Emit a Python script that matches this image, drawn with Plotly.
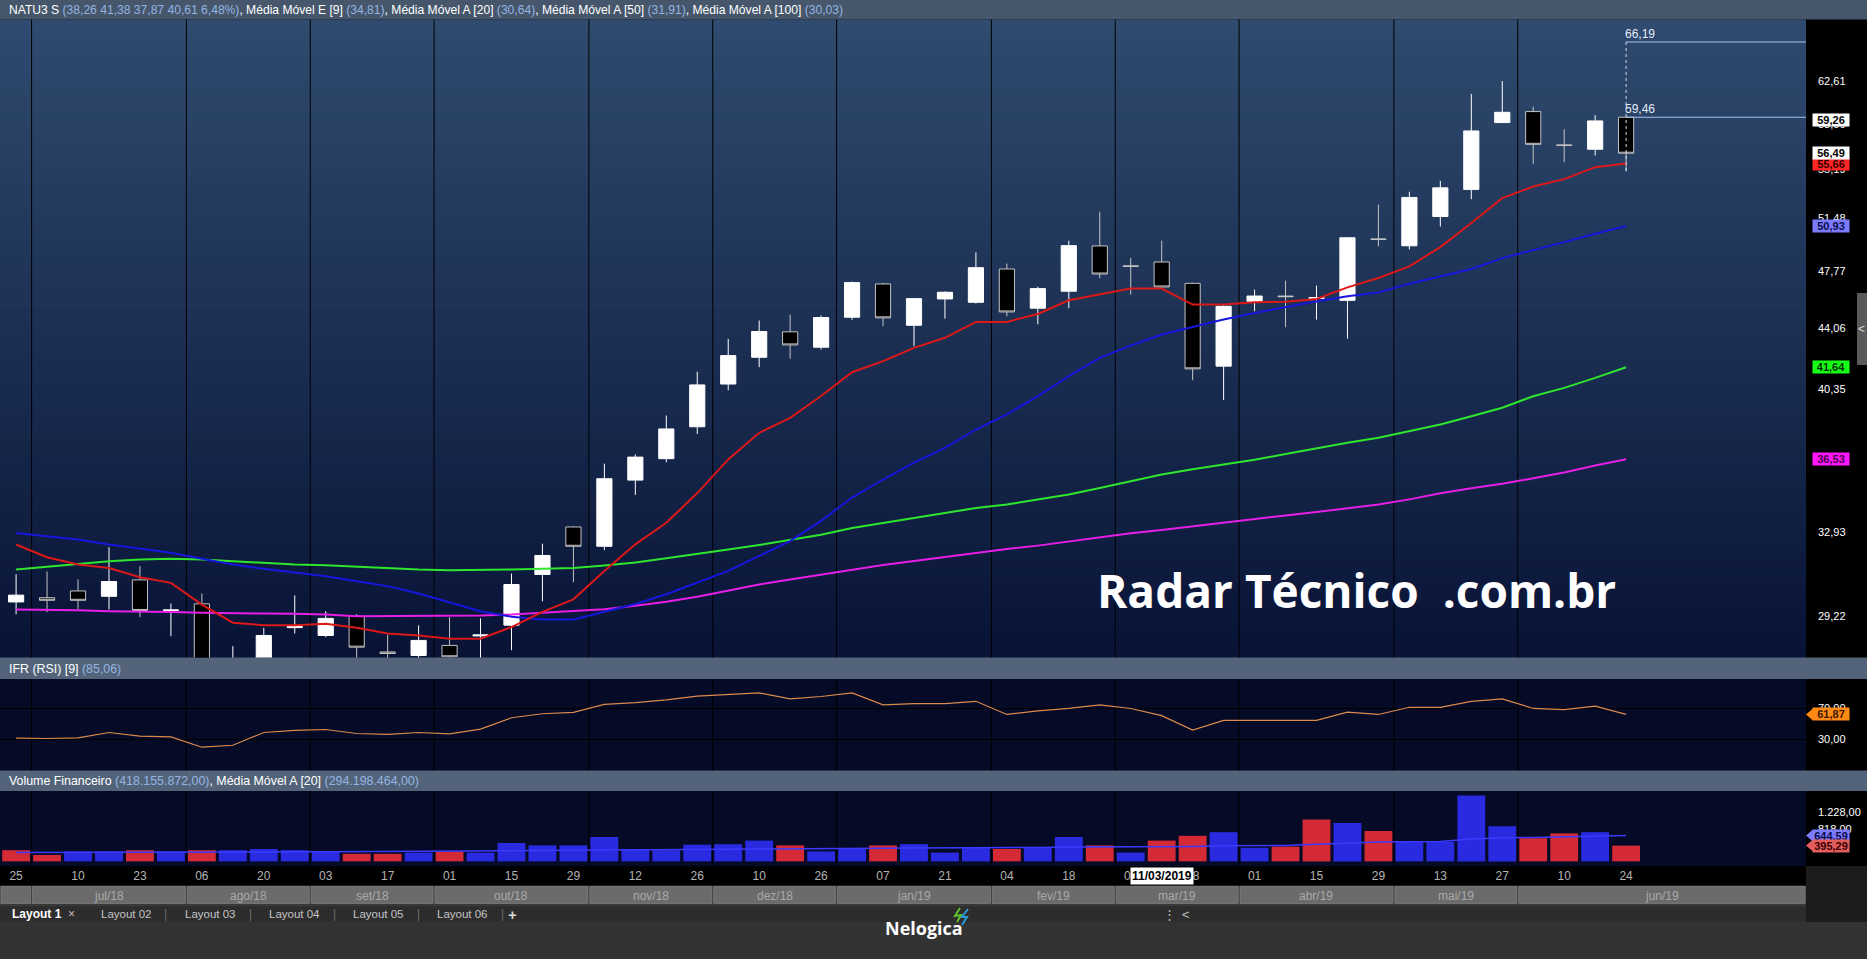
import numpy as np
import plotly.graph_objects as go

# ---------------- data (weekly candles, 25/06/2018 .. 24/06/2019) ----------------
date_ticks = ["25", "10", "23", "06", "20", "03", "17", "01", "15", "29", "12", "26", "10", "26",
              "07", "21", "04", "18", "06", "18", "01", "15", "29", "13", "27", "10", "24"]
months = ["jul/18", "ago/18", "set/18", "out/18", "nov/18", "dez/18", "jan/19", "fev/19",
          "mar/19", "abr/19", "mai/19", "jun/19"]
month_start = [1, 6, 10, 14, 19, 23, 27, 32, 36, 40, 45, 49]   # first candle of each month

opens = [29.81, 29.99, 30.28, 30.05, 30.76, 29.45, 29.73, 26.80, 27.30, 28.74,
         28.42, 29.21, 27.76, 27.62, 28.02, 28.40, 28.84, 31.00, 33.17, 32.27,
         35.46, 36.56, 38.26, 40.66, 42.24, 43.80, 42.85, 44.72, 46.89, 44.21,
         45.90, 45.68, 47.90, 45.30, 46.41, 49.50, 48.12, 48.38, 46.93, 41.71,
         45.74, 46.09, 45.94, 45.81, 50.00, 49.51, 51.62, 53.65, 59.01, 59.94,
         57.16, 56.81, 59.46]
highs = [31.01, 31.13, 30.78, 32.23, 31.37, 29.74, 30.17, 27.99, 28.73, 30.09,
         29.42, 29.30, 28.46, 28.83, 29.17, 29.12, 31.04, 32.39, 33.20, 36.30,
         36.78, 38.88, 41.38, 43.36, 44.51, 44.89, 44.83, 47.05, 46.96, 45.95,
         46.40, 49.05, 48.27, 46.71, 49.87, 51.97, 48.66, 49.87, 46.98, 45.50,
         46.51, 47.11, 46.78, 50.12, 52.49, 53.47, 54.31, 61.47, 62.61, 60.37,
         58.45, 59.63, 59.50]
lows = [29.29, 29.38, 29.49, 29.49, 29.17, 28.39, 26.80, 26.40, 27.10, 28.50,
        28.35, 27.50, 27.40, 27.40, 27.40, 27.50, 27.83, 29.84, 30.66, 32.09,
        34.72, 36.37, 37.87, 40.30, 41.65, 42.16, 42.71, 44.55, 44.15, 42.91,
        44.63, 45.60, 44.78, 44.27, 45.30, 47.27, 46.18, 46.60, 40.88, 39.74,
        45.10, 44.09, 44.57, 43.38, 49.47, 49.24, 50.89, 52.91, 59.00, 55.61,
        55.77, 56.30, 55.04]
closes = [30.10, 29.88, 29.88, 30.69, 29.45, 29.47, 27.10, 27.30, 28.42, 28.78,
          29.12, 27.95, 27.70, 28.22, 27.57, 28.44, 30.56, 31.85, 32.27, 35.53,
          36.64, 38.14, 40.61, 42.34, 43.82, 42.99, 44.70, 46.98, 44.68, 45.92,
          46.34, 47.99, 45.06, 46.58, 49.52, 47.56, 48.08, 46.69, 41.55, 45.42,
          46.09, 46.05, 45.98, 50.08, 49.96, 53.04, 53.77, 58.31, 59.88, 57.21,
          57.12, 59.15, 56.49]

ema9 = [32.35, 31.77, 31.44, 31.29, 30.88, 30.63, 29.70, 28.94, 28.84, 28.84,
        28.90, 28.73, 28.50, 28.42, 28.29, 28.29, 28.76, 29.39, 29.92, 31.15,
        32.36, 33.37, 34.81, 36.52, 37.93, 38.75, 39.97, 41.35, 42.01, 42.81,
        43.43, 44.42, 44.42, 44.93, 45.81, 46.18, 46.58, 46.58, 45.53, 45.53,
        45.68, 45.72, 45.90, 46.66, 47.29, 48.08, 49.42, 51.14, 52.99, 53.87,
        54.44, 55.38, 55.66]
sma20 = [32.89, 32.73, 32.58, 32.35, 32.15, 31.97, 31.70, 31.44, 31.25, 31.07,
         30.92, 30.70, 30.49, 30.17, 29.80, 29.42, 29.19, 29.07, 29.07, 29.38,
         29.72, 30.14, 30.64, 31.16, 31.83, 32.51, 33.46, 34.59, 35.49, 36.35,
         37.13, 38.11, 38.94, 39.97, 41.12, 42.20, 42.95, 43.63, 44.10, 44.57,
         44.99, 45.38, 45.74, 46.07, 46.33, 46.91, 47.40, 47.90, 48.65, 49.18,
         49.77, 50.36, 50.93]
sma50 = [31.22, 31.34, 31.49, 31.59, 31.67, 31.70, 31.67, 31.59, 31.54, 31.44,
         31.41, 31.34, 31.27, 31.22, 31.19, 31.19, 31.22, 31.25, 31.29, 31.40,
         31.53, 31.72, 31.91, 32.12, 32.33, 32.56, 32.80, 33.12, 33.35, 33.60,
         33.84, 34.08, 34.25, 34.48, 34.74, 35.06, 35.40, 35.74, 36.01, 36.25,
         36.50, 36.80, 37.10, 37.40, 37.66, 38.02, 38.38, 38.84, 39.31, 39.96,
         40.44, 41.02, 41.64]
sma100 = [29.49, 29.49, 29.46, 29.42, 29.42, 29.39, 29.35, 29.35, 29.32, 29.31,
          29.28, 29.21, 29.21, 29.21, 29.21, 29.24, 29.28, 29.36, 29.42, 29.50,
          29.65, 29.82, 30.03, 30.30, 30.56, 30.78, 31.00, 31.22, 31.42, 31.60,
          31.78, 31.98, 32.14, 32.30, 32.50, 32.70, 32.87, 33.03, 33.20, 33.40,
          33.55, 33.72, 33.88, 34.05, 34.25, 34.50, 34.80, 35.05, 35.28, 35.55,
          35.85, 36.20, 36.53]

rsi9 = [31.7, 31.3, 32.1, 38.9, 34.2, 33.3, 20.2, 22.7, 38.9, 41.5,
        42.7, 37.6, 36.4, 38.9, 37.2, 43.2, 57.6, 62.7, 64.5, 74.7,
        76.8, 80.2, 85.06, 87.6, 89.2, 81.6, 84.6, 89.2, 74.0, 75.5,
        75.5, 78.5, 61.8, 66.3, 69.4, 74.0, 69.4, 60.3, 42.0, 54.2,
        54.2, 54.2, 54.2, 64.8, 61.8, 70.9, 70.9, 78.5, 81.6, 69.4,
        67.9, 72.4, 61.87]

# financial volume, R$ millions
volume = [280, 160, 250, 250, 280, 250, 280, 280, 310, 280,
          250, 190, 190, 220, 250, 220, 460, 400, 400, 610,
          310, 280, 418.155872, 430, 520, 400, 250, 310, 400, 430,
          220, 340, 310, 340, 610, 400, 220, 520, 640, 730,
          340, 370, 1050, 960, 760, 490, 490, 1650, 880, 580,
          700, 730, 395.29]
volume_ma20 = [225, 225, 224, 224, 226, 228, 230, 232, 236, 240,
               243, 245, 246, 248, 250, 252, 262, 270, 276, 286,
               289, 291, 294.198464, 302, 314, 320, 322, 326, 330, 336,
               336, 340, 344, 350, 360, 360, 358, 362, 372, 390,
               392, 396, 430, 460, 484, 492, 500, 560, 590, 600,
               614, 630, 644.59]

price_ticks = [29.22, 32.93, 36.64, 40.35, 44.06, 47.77, 51.48, 55.19, 58.90, 62.61]
rsi_ticks = [30, 70]
vol_ticks = [818, 1228]
proj_levels = [66.19, 59.46]     # projection lines drawn from the last candle
proj_tag = 59.26
header_idx = 22                  # candle shown in the panel headers
cursor_date = "11/03/2019"
cursor_idx = 37

# ---------------- helpers ----------------
W, H = 1867, 959
PR = 1806  # right edge of the plotting area (px)
FONT = "Liberation Sans Narrow, Liberation Sans, Arial, sans-serif"
FONT_R = "Liberation Sans, Arial, sans-serif"
BLUE_TXT = "#93b4e2"


def br(v, d=2):
    s = f"{v:,.{d}f}"
    return s.replace(",", "X").replace(".", ",").replace("X", ".")


def pyp(y):
    return 1 - y / H


shapes = []
annotations = []


def prect(x0, x1, y0, y1, color, layer="below", line=None):
    shapes.append(dict(type="rect", xref="paper", yref="paper", x0=x0 / PR, x1=x1 / PR,
                       y0=pyp(y1), y1=pyp(y0), fillcolor=color,
                       line=line if line else dict(width=0), layer=layer))


def ptext(x, y, text, size=12, color="#ffffff", xanchor="left", family=FONT, **kw):
    annotations.append(dict(x=x / PR, y=pyp(y), xref="paper", yref="paper", text=text,
                            showarrow=False, xanchor=xanchor, yanchor="middle",
                            font=dict(size=size, color=color, family=family), **kw))


x = list(range(len(opens)))
xr = [-0.52, 57.81]

# axis calibration (pixels of the reference layout)
main_top, main_bot = 19.5, 657.5
rsi_top, rsi_bot = 679.0, 770.5
vol_top, vol_bot = 791.0, 866.0
K = 702.0  # px per ln unit
ln_ref, y_ref = np.log(62.61), 81.0
main_range = [(ln_ref - (main_bot - y_ref) / K) / np.log(10), (ln_ref + (y_ref - main_top) / K) / np.log(10)]
rsi_k = (739.5 - 708.0) / 40.0
rsi_range = [30 - (rsi_bot - 739.5) / rsi_k, 70 + (708.0 - rsi_top) / rsi_k]
vol_k = 0.04
vol_range = [-(vol_bot - 861.4) / vol_k, (861.4 - vol_top) / vol_k]

# ---------------- backgrounds ----------------
n_b = 70
top_rgb = np.array([47, 75, 111])
bot_rgb = np.array([8, 19, 54])
for k in range(n_b):
    t0 = main_top + (main_bot - main_top) * k / n_b
    t1 = main_top + (main_bot - main_top) * (k + 1) / n_b
    c = top_rgb + (bot_rgb - top_rgb) * (k + 0.5) / n_b
    prect(0, PR, t0, t1 + 0.7, f"rgb({c[0]:.0f},{c[1]:.0f},{c[2]:.0f})")
prect(0, PR, rsi_top, rsi_bot, "#050a27")
prect(0, PR, vol_top, vol_bot, "#050a27")
prect(0, W, 0, main_top, "#46576c")
prect(0, W, main_bot, rsi_top, "#53647a")
prect(0, W, rsi_bot, vol_top, "#53647a")
prect(PR, W, vol_bot, 922, "#1c1c1c")
prect(0, PR, 885.5, 904.5, "#3c3c3c")
prect(0, PR, 904.5, 922, "#2d2d2d")
prect(0, PR, 904.5, 905.5, "#4a4a4a")
prect(0, W, 922, H, "#333333")
# scroll handle
prect(1857, W, 293, 365, "#5a5a5a", layer="above")
ptext(1861, 329, "&lt;", size=12, color="#dcdcdc", xanchor="center", family=FONT_R)

# month separators in all three panels
bounds = [m - 0.5 for m in month_start]
for b in bounds:
    for (a0, a1) in [(main_top, main_bot), (rsi_top, rsi_bot), (vol_top, vol_bot)]:
        shapes.append(dict(type="line", xref="x", yref="paper", x0=b, x1=b, y0=pyp(a1), y1=pyp(a0),
                           line=dict(color="#000000", width=1), layer="below"))

# month buttons
seg_edges = [xr[0]] + bounds + [xr[1]]
for i in range(len(seg_edges) - 1):
    shapes.append(dict(type="rect", xref="x", yref="paper", x0=seg_edges[i] + 0.03, x1=seg_edges[i + 1] - 0.03,
                       y0=pyp(903.5), y1=pyp(886.5), fillcolor="#6b6b6b",
                       line=dict(color="#8a8a8a", width=0.6), layer="below"))
for i, m in enumerate(months):
    annotations.append(dict(x=(seg_edges[i + 1] + seg_edges[i + 2]) / 2, xref="x", y=pyp(895.5), yref="paper",
                            text=m, showarrow=False, xanchor="center", yanchor="middle",
                            font=dict(size=12, color="#a9a9a9", family=FONT)))

# ---------------- traces ----------------
fig = go.Figure()
fig.add_trace(go.Candlestick(
    x=x, open=opens, high=highs, low=lows, close=closes, xaxis="x", yaxis="y",
    increasing=dict(fillcolor="#ffffff", line=dict(color="#ffffff", width=1)),
    decreasing=dict(fillcolor="#000000", line=dict(color="#c4c4c4", width=1)),
    whiskerwidth=0, hoverinfo="skip"))
for vals, col in [(sma100, "#e61ee6"), (sma50, "#2ee62e"), (sma20, "#1616dc"), (ema9, "#dc1818")]:
    fig.add_trace(go.Scatter(x=x, y=vals, mode="lines", line=dict(color=col, width=2),
                             xaxis="x", yaxis="y", hoverinfo="skip"))
last = x[-1]
for lv in proj_levels:
    fig.add_trace(go.Scatter(x=[last, xr[1]], y=[lv, lv], mode="lines",
                             line=dict(color="#a9c4ea", width=1), xaxis="x", yaxis="y", hoverinfo="skip"))
    annotations.append(dict(x=last, y=np.log10(lv), xref="x", yref="y", text=br(lv), showarrow=False,
                            xanchor="left", yanchor="bottom", yshift=-1, xshift=-3,
                            font=dict(size=12, color="#e4ecf7", family=FONT_R)))
fig.add_trace(go.Scatter(x=[last, last], y=[max(proj_levels), lows[-1]], mode="lines",
                         line=dict(color="#d0dcef", width=1, dash="3px,3px"), xaxis="x", yaxis="y",
                         hoverinfo="skip"))

fig.add_trace(go.Scatter(x=x, y=rsi9, mode="lines", line=dict(color="#dc8a4c", width=1.2),
                         xaxis="x2", yaxis="y2", hoverinfo="skip"))

vol_colors = ["#d42a36" if (i == 0 or closes[i] < closes[i - 1]) else "#2a2ae0" for i in x]
fig.add_trace(go.Bar(x=x, y=volume, marker=dict(color=vol_colors, line=dict(width=0)),
                     xaxis="x3", yaxis="y3", hoverinfo="skip"))
fig.add_trace(go.Scatter(x=x, y=volume_ma20, mode="lines", line=dict(color="#3b3bff", width=1.5),
                         xaxis="x3", yaxis="y3", hoverinfo="skip"))

# ---------------- price tags on the right axis ----------------


def tag(v, yref, ylog, bg, fg):
    yv = np.log10(v) if ylog else v
    shapes.append(dict(type="path", xref="paper", yref=yref, xsizemode="pixel", ysizemode="pixel",
                       xanchor=1.0, yanchor=yv, path="M 0 0 L 7 6 L 7 -6 Z",
                       fillcolor=bg, line=dict(width=0), layer="above"))
    annotations.append(dict(x=1.0, y=yv, xref="paper", yref=yref, text=f"<b>{br(v)}</b>",
                            showarrow=False, xanchor="left", yanchor="middle", xshift=6,
                            bgcolor=bg, borderpad=0, width=36, height=12,
                            font=dict(size=11, color=fg, family=FONT_R)))


tag(proj_tag, "y", True, "#ffffff", "#000000")
tag(ema9[-1], "y", True, "#ff2626", "#3a0000")
tag(closes[-1], "y", True, "#ffffff", "#000000")
tag(sma20[-1], "y", True, "#7b7bff", "#0c0c48")
tag(sma50[-1], "y", True, "#16ff16", "#003000")
tag(sma100[-1], "y", True, "#ff18ff", "#480048")
tag(rsi9[-1], "y2", False, "#ff8a14", "#3a1800")
tag(volume_ma20[-1], "y3", False, "#7b7bff", "#0c0c48")
tag(volume[-1], "y3", False, "#e35d5d", "#3a0000")

# ---------------- header texts ----------------
h = header_idx
chg = (closes[h] / closes[h - 1] - 1) * 100
sp = "\u00a0"
top_txt = (f"NATU3 S <span style='color:{BLUE_TXT}'>({br(opens[h])}{sp}{br(highs[h])}{sp}{br(lows[h])}{sp}"
           f"{br(closes[h])}{sp}{br(chg)}%)</span>, "
           f"Média Móvel E [9] <span style='color:{BLUE_TXT}'>({br(ema9[h])})</span>, "
           f"Média Móvel A [20] <span style='color:{BLUE_TXT}'>({br(sma20[h])})</span>, "
           f"Média Móvel A [50] <span style='color:{BLUE_TXT}'>({br(sma50[h])})</span>, "
           f"Média Móvel A [100] <span style='color:{BLUE_TXT}'>({br(sma100[h])})</span>")
ptext(7, 9.5, top_txt, size=12.1)
ptext(7, 668.5, f"IFR (RSI) [9] <span style='color:{BLUE_TXT}'>({br(rsi9[h])})</span>", size=12.4)
ptext(7, 781, f"Volume Financeiro <span style='color:{BLUE_TXT}'>({br(volume[h] * 1e6)})</span>, "
              f"Média Móvel A [20] <span style='color:{BLUE_TXT}'>({br(volume_ma20[h] * 1e6)})</span>", size=12.4)

# cursor date box
annotations.append(dict(x=cursor_idx, xref="x3", y=pyp(876), yref="paper", text=f"<b>{cursor_date}</b>",
                        showarrow=False, xanchor="center", yanchor="middle", bgcolor="#ffffff",
                        borderpad=1, font=dict(size=12, color="#000000", family=FONT)))

# watermark
annotations.append(dict(x=1356 / PR, y=pyp(590), xref="paper", yref="paper",
                        text="<b>Radar Técnico\u00a0\u00a0.com.br</b>", showarrow=False,
                        xanchor="center", yanchor="middle",
                        font=dict(size=46, color="#ffffff", family="Open Sans, sans-serif")))

# layout tabs and footer
ptext(10, 914, "<b>Layout 1</b>", size=12, color="#ffffff")
ptext(66, 914, "×", size=12, color="#bdbdbd", family=FONT_R)
for lx, name in [(99, "Layout 02"), (183, "Layout 03"), (267, "Layout 04"), (351, "Layout 05"), (435, "Layout 06")]:
    ptext(lx, 914, name, size=11.5, color="#c4c4c4")
for sx in [165, 250, 334, 418, 502]:
    ptext(sx, 914, "|", size=12, color="#6a6a6a", xanchor="center", family=FONT_R)
ptext(512, 914, "<b>+</b>", size=15, color="#d8d8d8", xanchor="center", family=FONT_R)
ptext(1169, 914, "⋮", size=13, color="#bdbdbd", xanchor="center", family=FONT_R)
ptext(1186, 914, "&lt;", size=13, color="#bdbdbd", xanchor="center", family=FONT_R)
ptext(924, 928, "<b>Nelogica</b>", size=18, color="#ffffff", xanchor="center", family="Open Sans, sans-serif")
shapes.append(dict(type="path", xref="paper", yref="paper",
                   path=f"M {960/PR} {pyp(908)} L {955/PR} {pyp(916)} L {961/PR} {pyp(915)} L {957/PR} {pyp(922)}",
                   line=dict(color="#5ec22e", width=2), layer="above"))
shapes.append(dict(type="path", xref="paper", yref="paper",
                   path=f"M {968/PR} {pyp(909)} L {962/PR} {pyp(917)} L {967/PR} {pyp(917)} L {962/PR} {pyp(925)}",
                   line=dict(color="#2a9bd8", width=2), layer="above"))

# ---------------- layout ----------------
noax = dict(showgrid=False, zeroline=False, showline=False, fixedrange=True)
fig.update_layout(
    width=W, height=H, margin=dict(l=0, r=W - PR, t=0, b=0),
    paper_bgcolor="#000000", plot_bgcolor="rgba(0,0,0,0)", showlegend=False,
    hovermode=False, bargap=0.1, dragmode=False,
    xaxis=dict(domain=[0, 1], anchor="y", range=xr, showticklabels=False,
               rangeslider=dict(visible=False), **noax),
    yaxis=dict(domain=[pyp(main_bot), pyp(main_top)], anchor="x", type="log", range=main_range,
               side="right", tickmode="array", tickvals=price_ticks, ticktext=[br(v) for v in price_ticks],
               ticks="", ticklabelstandoff=11, tickfont=dict(size=11, color="#ffffff", family=FONT_R), **noax),
    xaxis2=dict(domain=[0, 1], anchor="y2", range=xr, matches="x", showticklabels=False, **noax),
    yaxis2=dict(domain=[pyp(rsi_bot), pyp(rsi_top)], anchor="x2", range=rsi_range, side="right",
                tickmode="array", tickvals=rsi_ticks, ticktext=[br(v) for v in rsi_ticks], ticks="",
                ticklabelstandoff=11, tickfont=dict(size=11, color="#ffffff", family=FONT_R),
                showgrid=True, gridcolor="#000000", gridwidth=1, zeroline=False, showline=False,
                fixedrange=True),
    xaxis3=dict(domain=[0, 1], anchor="y3", range=xr, matches="x", tickmode="array",
                tickvals=list(range(0, len(x), 2)), ticktext=date_ticks, ticks="",
                tickfont=dict(size=12, color="#b4b4b4", family=FONT), ticklabelstandoff=1, **noax),
    yaxis3=dict(domain=[pyp(vol_bot), pyp(vol_top)], anchor="x3", range=vol_range, side="right",
                tickmode="array", tickvals=vol_ticks, ticktext=[br(v) for v in vol_ticks], ticks="",
                ticklabelstandoff=11, tickfont=dict(size=11, color="#ffffff", family=FONT_R), **noax),
    shapes=shapes, annotations=annotations,
)

fig.write_html("out.html", config={"displayModeBar": False, "staticPlot": True},
               post_script="document.body.style.margin='0px';document.body.style.overflow='hidden';")
